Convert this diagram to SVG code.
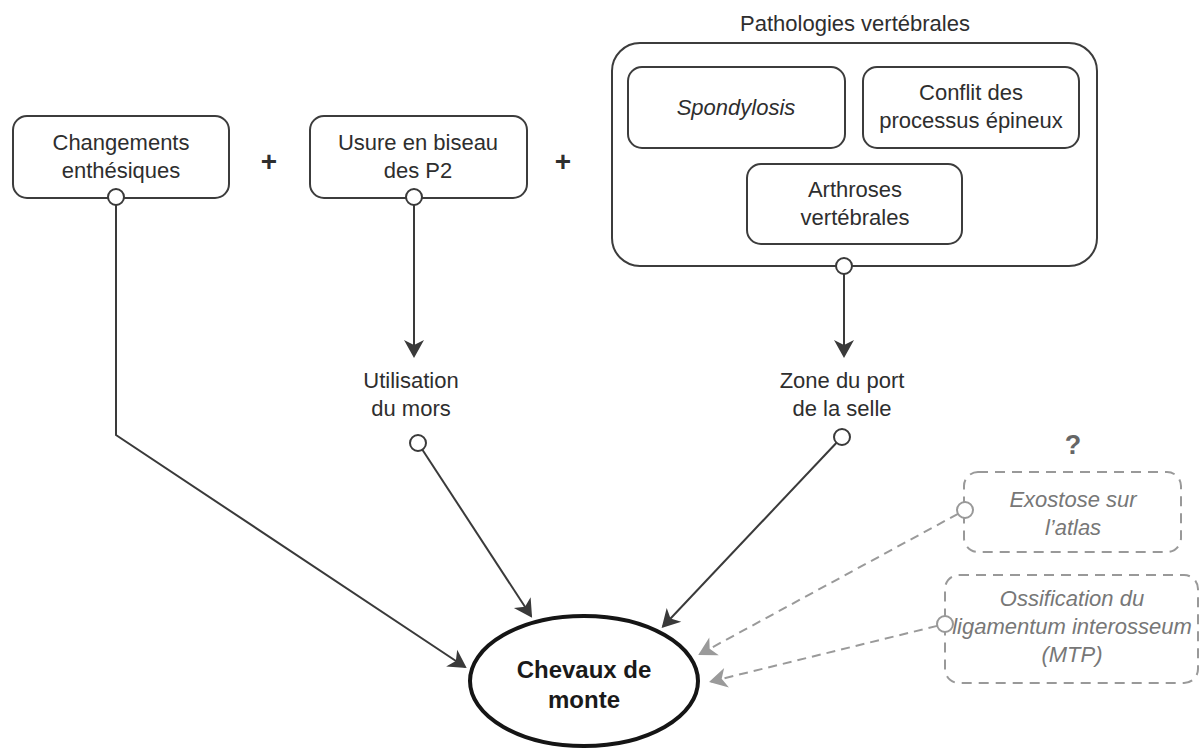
<svg xmlns="http://www.w3.org/2000/svg" width="1200" height="749" viewBox="0 0 1200 749">
<defs>
<style>
.box{fill:#fff;stroke:#3c3c3c;stroke-width:2}
.dbox{fill:#fff;stroke:#999;stroke-width:2;stroke-dasharray:10 7}
.t{font-family:"Liberation Sans",Arial,sans-serif;font-size:22px;fill:#2e2e2e;text-anchor:middle}
.it{font-style:italic}
.gt{fill:#777}
.conn{fill:none;stroke:#3a3a3a;stroke-width:2}
.dconn{fill:none;stroke:#9a9a9a;stroke-width:2;stroke-dasharray:9 6}
.port{fill:#fff;stroke:#3a3a3a;stroke-width:2}
.dport{fill:#fff;stroke:#999;stroke-width:2}
.plus{font-family:"Liberation Sans",Arial,sans-serif;font-size:28px;font-weight:bold;fill:#2e2e2e;text-anchor:middle}
</style>
<marker id="ah" viewBox="-18 -12 22 24" markerWidth="22" markerHeight="24" refX="0" refY="0" orient="auto" markerUnits="userSpaceOnUse">
<path d="M2,0 L-16,-10 L-11,0 L-16,10 Z" fill="#3a3a3a"/>
</marker>
<marker id="ahg" viewBox="-18 -12 22 24" markerWidth="22" markerHeight="24" refX="0" refY="0" orient="auto" markerUnits="userSpaceOnUse">
<path d="M2,0 L-16,-10 L-11,0 L-16,10 Z" fill="#9a9a9a"/>
</marker>
</defs>
<rect width="1200" height="749" fill="#fff"/>

<g id="changements">
<rect class="box" x="13" y="116" width="216" height="82" rx="14"/>
<text class="t" x="121" y="150">Changements</text>
<text class="t" x="121" y="178">enthésiques</text>
</g>

<g id="plus1"><text class="plus" x="269" y="171">+</text></g>

<g id="usure">
<rect class="box" x="310" y="116" width="217" height="82" rx="14"/>
<text class="t" x="418" y="150">Usure en biseau</text>
<text class="t" x="418" y="178">des P2</text>
</g>

<g id="plus2"><text class="plus" x="563" y="171">+</text></g>

<g id="pathologies">
<text class="t" x="855" y="31">Pathologies vertébrales</text>
<rect class="box" x="612" y="43" width="485" height="223" rx="28"/>
<g id="spondylosis">
<rect class="box" x="628" y="67" width="217" height="81" rx="14"/>
<text class="t it" x="736" y="115">Spondylosis</text>
</g>
<g id="conflit">
<rect class="box" x="863" y="67" width="216" height="81" rx="14"/>
<text class="t" x="971" y="100">Conflit des</text>
<text class="t" x="971" y="128">processus épineux</text>
</g>
<g id="arthroses">
<rect class="box" x="747" y="164" width="215" height="80" rx="14"/>
<text class="t" x="855" y="197">Arthroses</text>
<text class="t" x="855" y="225">vertébrales</text>
</g>
</g>

<g id="utilisation">
<text class="t" x="411" y="388">Utilisation</text>
<text class="t" x="411" y="416">du mors</text>
</g>

<g id="zone">
<text class="t" x="842" y="388">Zone du port</text>
<text class="t" x="842" y="416">de la selle</text>
</g>

<g id="question"><text class="t gt" x="1073" y="454" style="font-weight:bold;font-size:27px;fill:#666">?</text></g>

<g id="exostose">
<rect class="dbox" x="964" y="472" width="217" height="80" rx="14"/>
<text class="t it gt" x="1073" y="507">Exostose sur</text>
<text class="t it gt" x="1073" y="535">l’atlas</text>
</g>

<g id="ossification">
<rect class="dbox" x="945" y="575" width="253" height="108" rx="14"/>
<text class="t it gt" x="1072" y="606">Ossification du</text>
<text class="t it gt" x="1072" y="634">ligamentum interosseum</text>
<text class="t it gt" x="1072" y="662">(MTP)</text>
</g>

<g id="chevaux">
<ellipse cx="584" cy="681" rx="114" ry="65" fill="#fff" stroke="#151515" stroke-width="4"/>
<text class="t" x="584" y="678" style="font-weight:bold;font-size:24px;fill:#1a1a1a">Chevaux de</text>
<text class="t" x="584" y="708" style="font-weight:bold;font-size:24px;fill:#1a1a1a">monte</text>
</g>

<g id="connectors">
<polyline class="conn" points="116,205 116,435 465,667" marker-end="url(#ah)"/>
<line class="conn" x1="414" y1="205" x2="414" y2="356" marker-end="url(#ah)"/>
<line class="conn" x1="844" y1="274" x2="844" y2="356" marker-end="url(#ah)"/>
<line class="conn" x1="422.4" y1="449.7" x2="531" y2="616" marker-end="url(#ah)"/>
<line class="conn" x1="836.5" y1="442.8" x2="663" y2="626.5" marker-end="url(#ah)"/>
<line class="dconn" x1="958" y1="513.8" x2="700" y2="654" marker-end="url(#ahg)"/>
<line class="dconn" x1="937.2" y1="625.9" x2="711" y2="681.5" marker-end="url(#ahg)"/>
<circle class="port" cx="116" cy="197" r="8"/>
<circle class="port" cx="414" cy="197" r="8"/>
<circle class="port" cx="844" cy="266" r="8"/>
<circle class="port" cx="418" cy="443" r="8"/>
<circle class="port" cx="842" cy="437" r="8"/>
<circle class="dport" cx="965" cy="510" r="8"/>
<circle class="dport" cx="945" cy="624" r="8"/>
</g>
</svg>
